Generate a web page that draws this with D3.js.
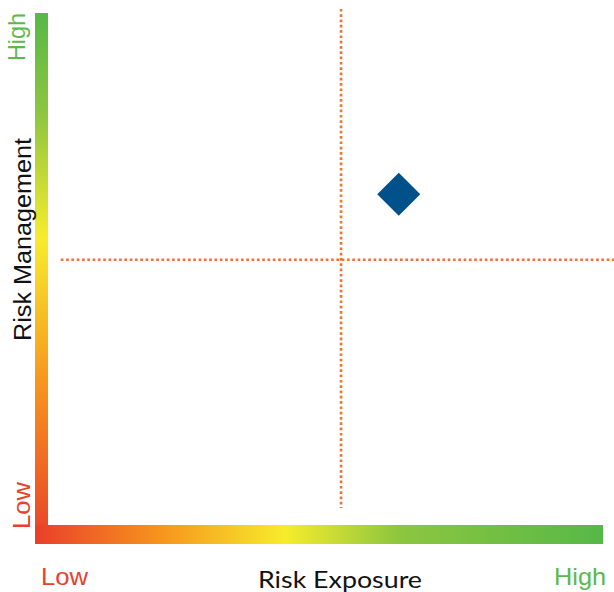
<!DOCTYPE html>
<html>
<head>
<meta charset="utf-8">
<script src="https://cdn.jsdelivr.net/npm/d3@7"></script>
<style>
  html, body { margin: 0; padding: 0; background: #ffffff; }
  svg { display: block; }
</style>
</head>
<body>
<svg id="chart" width="614" height="592"></svg>
<script>
// Risk position: exposure (x) against management (y), both on a 0–100 scale
const axisTitles = ["Risk Exposure", "Risk Management"];
const levelLabels = ["Low", "High"];
const pointX = [63.2];
const pointY = [64.6];
// Quadrant dividers and how far each divider runs
const dividerX = [52.8];
const dividerXSpan = [3.3, 100.8];
const dividerY = [51.8];
const dividerYSpan = [2.3, 102];
// Colour ramp along each axis bar (low → high)
const rampColors = ["#e93f2b", "#f7941d", "#f7ec2c", "#8dc63f", "#56b848"];
const rampStopsX = [0, 0.22, 0.44, 0.64, 1];
const rampStopsY = [0, 0.3, 0.576, 0.81, 1];

const svg = d3.select("#chart");

const x = d3.scaleLinear().domain([0, 100]).range([48, 603]);
const y = d3.scaleLinear().domain([0, 100]).range([525, 13]);

const defs = svg.append("defs");
const gx = defs.append("linearGradient").attr("id", "rampX")
  .attr("x1", "0").attr("y1", "0").attr("x2", "1").attr("y2", "0");
gx.selectAll("stop").data(rampColors).join("stop")
  .attr("offset", (d, i) => rampStopsX[i]).attr("stop-color", d => d);
const gy = defs.append("linearGradient").attr("id", "rampY")
  .attr("x1", "0").attr("y1", "1").attr("x2", "0").attr("y2", "0");
gy.selectAll("stop").data(rampColors).join("stop")
  .attr("offset", (d, i) => rampStopsY[i]).attr("stop-color", d => d);

// Axis bars
const barW = 13;
svg.append("rect")
  .attr("x", x(0) - barW).attr("y", y(100))
  .attr("width", barW).attr("height", y(0) - y(100) + 19)
  .attr("fill", "url(#rampY)");
svg.append("rect")
  .attr("x", x(0) - barW).attr("y", y(0))
  .attr("width", x(100) - x(0) + barW).attr("height", 19)
  .attr("fill", "url(#rampX)");

// Dotted quadrant dividers
const dash = { stroke: "#ee7433", width: 2.6, dash: "2.7 2.6" };
svg.append("line")
  .attr("x1", x(dividerX[0])).attr("x2", x(dividerX[0]))
  .attr("y1", y(dividerXSpan[1])).attr("y2", y(dividerXSpan[0]))
  .attr("stroke", dash.stroke).attr("stroke-width", dash.width)
  .attr("stroke-dasharray", dash.dash);
svg.append("line")
  .attr("y1", y(dividerY[0])).attr("y2", y(dividerY[0]))
  .attr("x1", x(dividerYSpan[0])).attr("x2", x(dividerYSpan[1]))
  .attr("stroke", dash.stroke).attr("stroke-width", dash.width)
  .attr("stroke-dasharray", dash.dash);

// Position marker
svg.selectAll("path.marker").data(pointX.map((v, i) => [v, pointY[i]])).join("path")
  .attr("class", "marker")
  .attr("d", d3.symbol().type(d3.symbolSquare).size(30.4 * 30.4))
  .attr("transform", d => `translate(${x(d[0])},${y(d[1])}) rotate(45)`)
  .attr("fill", "#00508a");

// Labels
const sans = "'Liberation Sans', Arial, sans-serif";
const red = "#e8412c", green = "#5cb94a";

svg.append("text")
  .attr("x", 258).attr("y", 588)
  .attr("font-family", "Lato, 'Open Sans', sans-serif").attr("font-size", 23)
  .attr("fill", "#111").attr("textLength", 164).attr("lengthAdjust", "spacingAndGlyphs")
  .text(axisTitles[0]);

svg.append("text")
  .attr("transform", "translate(31,341) rotate(-90)")
  .attr("font-family", sans).attr("font-size", 23)
  .attr("fill", "#111").attr("textLength", 203).attr("lengthAdjust", "spacingAndGlyphs")
  .text(axisTitles[1]);

svg.append("text")
  .attr("x", 41).attr("y", 585)
  .attr("font-family", sans).attr("font-size", 24)
  .attr("fill", red).attr("textLength", 47).attr("lengthAdjust", "spacingAndGlyphs")
  .text(levelLabels[0]);

svg.append("text")
  .attr("x", 554).attr("y", 585)
  .attr("font-family", sans).attr("font-size", 24)
  .attr("fill", green).attr("textLength", 52).attr("lengthAdjust", "spacingAndGlyphs")
  .text(levelLabels[1]);

svg.append("text")
  .attr("transform", "translate(30,529) rotate(-90)")
  .attr("font-family", sans).attr("font-size", 24)
  .attr("fill", red).attr("textLength", 47).attr("lengthAdjust", "spacingAndGlyphs")
  .text(levelLabels[0]);

svg.append("text")
  .attr("transform", "translate(25,61) rotate(-90)")
  .attr("font-family", sans).attr("font-size", 24)
  .attr("fill", green).attr("textLength", 48).attr("lengthAdjust", "spacingAndGlyphs")
  .text(levelLabels[1]);
</script>
</body>
</html>
